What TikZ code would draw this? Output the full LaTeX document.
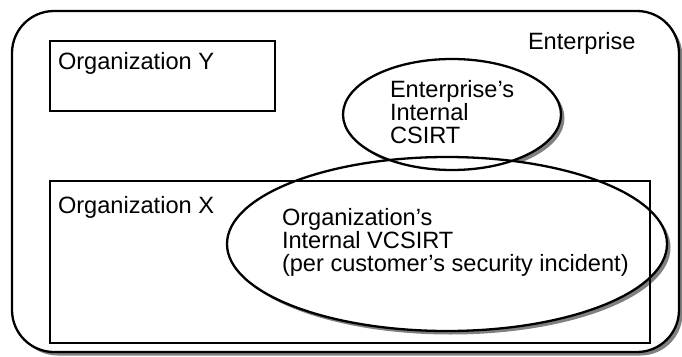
\documentclass[tikz,border=0pt]{standalone}
\usepackage{fontspec}
\setmainfont{Liberation Sans}
\usetikzlibrary{shapes.geometric}
\begin{document}
\begin{tikzpicture}[x=1pt,y=-1pt, line width=2.3pt,
  lbl/.style={font=\fontsize{23.6}{23.3}\selectfont, inner sep=0pt, outer sep=0pt, align=left, anchor=north west},
  shadowfill/.style={fill=black!50},
  boxnode/.style={draw, inner sep=0pt, outer sep=0pt},
  ellnode/.style={draw, ellipse, inner sep=0pt, outer sep=0pt}]
\useasboundingbox (0,0) rectangle (682,356);
% shadows and white backgrounds
\fill[shadowfill, rounded corners=42pt] (15.5,14.5) rectangle (682.5,355.5);
\fill[white, rounded corners=42pt] (12,11) rectangle (679,352);
\fill[shadowfill] (455.5,118) ellipse [x radius=109pt, y radius=55.5pt];
\fill[white] (452,114.5) ellipse [x radius=109pt, y radius=55.5pt];
\fill[shadowfill] (450.5,247.5) ellipse [x radius=220pt, y radius=87pt];
\fill[white] (447,244) ellipse [x radius=220pt, y radius=87pt];
% outlines
\node[boxnode, rounded corners=42pt, minimum width=667pt, minimum height=341pt] (ent) at (345.5,181.5) {};
\node[boxnode, minimum width=225pt, minimum height=70pt] (orgy) at (162.5,76) {};
\node[boxnode, minimum width=600pt, minimum height=162pt] (orgx) at (350,262) {};
\node[ellnode, minimum width=218pt, minimum height=111pt] (csirt) at (452,114.5) {};
\node[ellnode, minimum width=440pt, minimum height=174pt] (vcsirt) at (447,244) {};
% texts
\node[lbl] (enttext) at (528,32.2) {Enterprise};
\node[lbl] (orgytext) at (58,52) {Organization Y};
\node[lbl] (orgxtext) at (58,196) {Organization X};
\node[lbl] (csirttext) at (390,80) {Enterprise’s\\Internal\\CSIRT};
\node[lbl] (vcsirttext) at (282,208) {Organization’s\\Internal VCSIRT\\(per customer’s security incident)};
\end{tikzpicture}
\end{document}
